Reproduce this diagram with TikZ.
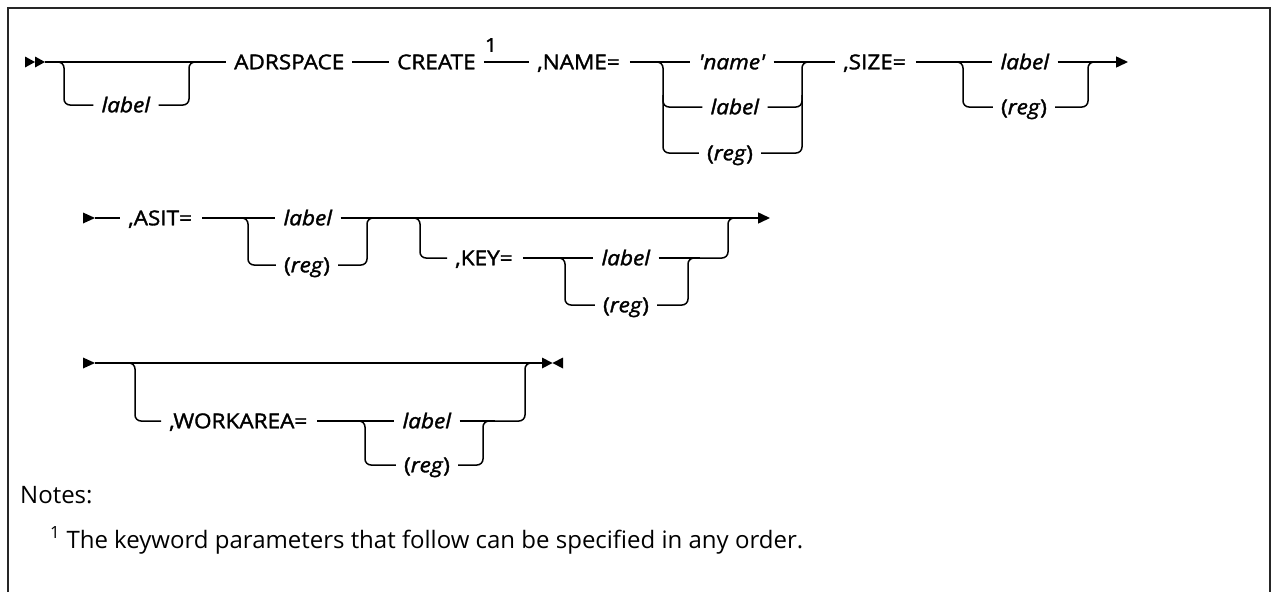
\documentclass[tikz,border=0pt]{standalone}
\usepackage{fontspec}
\setmainfont{Open Sans}
\newfontfamily\dfont[Ligatures=TeXOff, FakeBold=1.6, FakeStretch=1.1]{Open Sans}
\usetikzlibrary{arrows.meta}
\tikzset{
  lbl/.style={inner sep=0pt, text height=14.5pt, text depth=0pt, font=\dfont\fontsize{20.5}{24}\selectfont},
  ln/.style={line width=1.5pt},
  rr/.style={line width=1.5pt, rounded corners=6pt},
  tipend/.style={line width=1.5pt, -{Triangle[length=12pt,width=11pt]}},
  notefont/.style={font=\fontsize{24}{28}\selectfont}
}
\begin{document}
\begin{tikzpicture}[x=1pt,y=-1pt]
\useasboundingbox (0,0) rectangle (1274,592);
\draw[line width=2pt, black!85] (8,592) -- (8,8) -- (1270,8) -- (1270,592);

% ---------- row 1 ----------
\fill (25,56.5) -- (35,62) -- (25,67.5) -- cycle;
\fill (35,56.5) -- (45,62) -- (35,67.5) -- cycle;
\coordinate (s1) at (45,62);
\node[lbl,anchor=west] (adr) at (234,62) {ADRSPACE};
\node[lbl,anchor=west] (create) at (397,62) {CREATE};
\node[lbl,anchor=west] (name) at (537,62) {,NAME=};
\node[lbl] (lab0) at (126,105) {\textit{label}};
\node[lbl] (nm1) at (732,62) {\textit{'name'}};
\node[lbl] (nm2) at (735,107) {\textit{label}};
\node[lbl] (nm3) at (730,153) {(\textit{reg})};
\node[lbl,anchor=west] (size) at (843,62) {,SIZE=};
\node[lbl] (sz1) at (1025,62) {\textit{label}};
\node[lbl] (sz2) at (1024,107) {(\textit{reg})};
\node[inner sep=0pt, font=\dfont\fontsize{19}{20}\selectfont] (one) at (491,45) {1};
\coordinate (e1) at (1128,62);

\draw[ln] (s1) -- ([xshift=-8pt]adr.west);
\draw[rr] (54,62) -- (64,62) -- (64,105) -- ([xshift=-8pt]lab0.west);
\draw[rr] ([xshift=8pt]lab0.east) -- (189,105) -- (189,62) -- (197,62);
\draw[ln] ([xshift=8pt]adr.east) -- ([xshift=-8pt]create.west);
\draw[ln] ([xshift=8pt]create.east) -- ([xshift=-8pt]name.west);
\draw[ln] ([xshift=10pt]name.east) -- ([xshift=-8pt]nm1.west);
\draw[rr] (655,62) -- (663,62) -- (663,153) -- ([xshift=-8pt]nm3.west);
\draw[rr] (663,95) -- (663,107) -- ([xshift=-8pt]nm2.west);
\draw[rr] ([xshift=8pt]nm3.east) -- (802,153) -- (802,62) -- (810,62);
\draw[rr] ([xshift=8pt]nm2.east) -- (802,107) -- (802,95);
\draw[ln] ([xshift=8pt]nm1.east) -- ([xshift=-8pt]size.west);
\draw[ln] ([xshift=10pt]size.east) -- ([xshift=-8pt]sz1.west);
\draw[rr] (955,62) -- (963,62) -- (963,107) -- ([xshift=-8pt]sz2.west);
\draw[rr] ([xshift=8pt]sz2.east) -- (1088,107) -- (1088,62) -- (1096,62);
\draw[tipend] ([xshift=8pt]sz1.east) -- (e1);

% ---------- row 2 ----------
\fill (83,212.5) -- (95,218) -- (83,223.5) -- cycle;
\coordinate (s2) at (95,218);
\node[lbl,anchor=west] (asit) at (128,218) {,ASIT=};
\node[lbl] (as1) at (308,218) {\textit{label}};
\node[lbl] (as2) at (307,265) {(\textit{reg})};
\node[lbl,anchor=west] (key) at (455,258) {,KEY=};
\node[lbl] (ky1) at (626,258) {\textit{label}};
\node[lbl] (ky2) at (626,305) {(\textit{reg})};
\coordinate (e2) at (770,218);

\draw[ln] (s2) -- ([xshift=-8pt]asit.west);
\draw[ln] ([xshift=10pt]asit.east) -- ([xshift=-8pt]as1.west);
\draw[rr] (240,218) -- (248,218) -- (248,265) -- ([xshift=-8pt]as2.west);
\draw[rr] ([xshift=8pt]as2.east) -- (367,265) -- (367,218) -- (375,218);
\draw[tipend] ([xshift=8pt]as1.east) -- (e2);
\draw[rr] (412,218) -- (420,218) -- (420,258) -- ([xshift=-8pt]key.west);
\draw[ln] ([xshift=10pt]key.east) -- ([xshift=-8pt]ky1.west);
\draw[rr] (557,258) -- (565,258) -- (565,305) -- ([xshift=-8pt]ky2.west);
\draw[rr] ([xshift=8pt]ky2.east) -- (688,305) -- (688,258) -- (696,258);
\draw[ln] ([xshift=8pt]ky1.east) -- (700,258);
\draw[rr] (700,258) -- (728,258) -- (728,218) -- (736,218);

% ---------- row 3 ----------
\fill (83,357.5) -- (95,363) -- (83,368.5) -- cycle;
\coordinate (s3) at (95,363);
\coordinate (e3) at (542,363);
\node[lbl,anchor=west] (work) at (169,421) {,WORKAREA=};
\node[lbl] (wk1) at (427,421) {\textit{label}};
\node[lbl] (wk2) at (427,465) {(\textit{reg})};
\draw[ln] (s3) -- (e3);
\fill (542,357.5) -- (552.5,363) -- (542,368.5) -- cycle;
\fill (563,357.5) -- (552.5,363) -- (563,368.5) -- cycle;
\draw[rr] (127,363) -- (135,363) -- (135,421) -- ([xshift=-8pt]work.west);
\draw[ln] ([xshift=10pt]work.east) -- ([xshift=-8pt]wk1.west);
\draw[rr] (357,421) -- (365,421) -- (365,465) -- ([xshift=-8pt]wk2.west);
\draw[rr] ([xshift=8pt]wk2.east) -- (483,465) -- (483,421) -- (491,421);
\draw[ln] ([xshift=8pt]wk1.east) -- (495,421);
\draw[rr] (495,421) -- (525,421) -- (525,363) -- (533,363);

% ---------- notes ----------
\node[notefont, anchor=base west, inner sep=0pt] (notes) at (20,503) {Notes:};
\node[notefont, anchor=base west, inner sep=0pt] (fn) at (50,548) {\textsuperscript{1} The keyword parameters that follow can be specified in any order.};
\end{tikzpicture}
\end{document}
